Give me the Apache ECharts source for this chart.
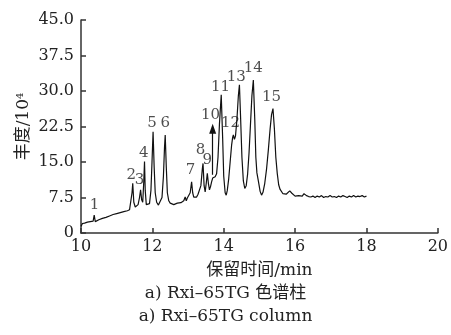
<!DOCTYPE html>
<html><head><meta charset="utf-8">
<script src="https://cdn.jsdelivr.net/npm/echarts@6/dist/echarts.min.js"></script>
<style>html,body{margin:0;padding:0;background:#fff}#c{width:451px;height:335px}</style>
</head><body><div id="c"></div>
<script>
const times = [10.00,10.04,10.07,10.10,10.14,10.18,10.22,10.26,10.30,10.34,10.37,10.40,10.44,10.50,10.55,10.60,10.65,10.70,10.75,10.80,10.85,10.90,10.95,11.00,11.05,11.10,11.15,11.20,11.25,11.30,11.36,11.40,11.43,11.45,11.48,11.52,11.56,11.60,11.64,11.67,11.70,11.73,11.76,11.78,11.80,11.83,11.87,11.92,11.96,11.99,12.02,12.05,12.08,12.12,12.17,12.22,12.27,12.31,12.34,12.36,12.39,12.42,12.46,12.50,12.55,12.60,12.65,12.70,12.75,12.80,12.85,12.88,12.92,12.95,12.98,13.00,13.03,13.06,13.10,13.13,13.16,13.20,13.24,13.28,13.32,13.36,13.40,13.42,13.45,13.48,13.51,13.54,13.57,13.60,13.63,13.66,13.69,13.72,13.76,13.80,13.84,13.88,13.93,13.97,14.00,14.04,14.07,14.10,14.14,14.18,14.22,14.25,14.27,14.30,14.33,14.37,14.41,14.44,14.47,14.51,14.55,14.59,14.63,14.67,14.71,14.75,14.79,14.83,14.87,14.90,14.93,14.97,15.02,15.06,15.10,15.15,15.20,15.25,15.30,15.34,15.38,15.42,15.46,15.50,15.54,15.58,15.62,15.66,15.70,15.75,15.80,15.85,15.88,15.91,15.95,16.00,16.05,16.10,16.15,16.20,16.25,16.28,16.32,16.38,16.44,16.50,16.56,16.62,16.68,16.74,16.80,16.86,16.92,16.98,17.04,17.10,17.16,17.22,17.28,17.34,17.40,17.46,17.52,17.58,17.64,17.70,17.76,17.82,17.88,17.94,18.00];
const abundance = [1.4,2.0,1.6,2.1,1.9,2.3,2.1,2.4,2.3,2.5,3.8,2.4,2.6,2.8,2.9,3.1,3.2,3.3,3.5,3.6,3.8,3.9,4.0,4.1,4.2,4.3,4.4,4.5,4.6,4.7,4.9,5.0,8.5,10.5,6.5,5.5,5.4,6.0,7.5,9.1,7.0,6.5,11.0,15.1,9.0,6.0,5.6,6.2,9.0,15.0,21.4,14.0,8.5,6.5,5.9,6.2,7.5,12.0,18.0,20.7,14.0,8.5,6.8,6.3,6.2,6.0,6.0,6.3,6.1,6.4,6.5,6.8,7.6,6.8,7.4,7.0,7.8,8.5,10.8,8.5,7.6,7.8,7.6,8.2,8.4,10.0,13.5,14.7,10.0,8.7,10.5,12.6,10.5,9.1,9.8,10.8,11.6,11.5,11.9,12.5,16.0,23.0,29.2,20.0,12.0,8.5,8.0,9.0,11.5,15.0,18.5,20.2,20.7,19.8,20.5,24.0,29.0,31.3,25.0,16.0,11.0,9.4,10.0,12.5,17.0,23.0,29.0,32.3,24.0,16.0,12.7,11.0,8.8,8.0,8.6,10.5,13.5,17.5,22.0,25.0,26.3,22.0,16.0,12.6,10.2,9.2,8.9,8.3,8.6,8.2,8.4,8.9,9.2,8.4,8.0,7.8,7.7,7.9,7.6,7.8,8.3,8.5,7.9,7.7,7.6,7.8,7.5,7.8,7.6,7.9,7.5,7.7,7.6,7.9,7.6,7.7,7.5,7.8,7.6,7.9,7.7,7.5,7.8,7.6,7.9,7.6,7.8,7.7,7.9,7.6,7.8];
const peakNames = ['1','2','3','4','5','6','7','8','9','10','11','12','13','14','15'];
const peakLabelX = [10.38,11.41,11.64,11.76,11.99,12.36,13.07,13.35,13.54,13.63,13.91,14.19,14.35,14.83,15.34];
const peakLabelY = [5.9,12.3,11.2,16.8,23.2,23.2,13.3,17.5,15.4,24.9,30.9,23.2,33.0,34.8,28.8];
const arrowX = 13.69, arrowFromY = 12.3, arrowToY = 22.0;
const yTickLabels = ['0','7.5','15.0','22.5','30.0','37.5','45.0'];
const xTickLabels = ['10','12','14','16','18','20'];
const yAxisName = '丰度/10';
const yAxisSup = '4';
const xAxisName = '保留时间/min';
const caption1 = 'a) Rxi\u201365TG 色谱柱';
const caption2 = 'a) Rxi\u201365TG column';

const FONT = '"DejaVu Serif", "Noto Sans CJK SC", serif';
const chart = echarts.init(document.getElementById('c'), null, {renderer: 'canvas'});
chart.setOption({
  animation: false,
  backgroundColor: '#fff',
  title: [
    {text: caption1, left: 'center', top: 285, padding: 0, textStyle: {fontFamily: FONT, fontSize: 17, fontWeight: 'normal', color: '#222'}},
    {text: caption2, left: 'center', top: 308, padding: 0, textStyle: {fontFamily: FONT, fontSize: 17, fontWeight: 'normal', color: '#222'}}
  ],
  grid: {left: 81, right: 11, top: 20, bottom: 102},
  xAxis: {
    type: 'value', min: 10, max: 20, interval: 2,
    name: xAxisName, nameLocation: 'middle', nameGap: 29, nameMoveOverlap: false,
    nameTextStyle: {fontFamily: FONT, fontSize: 17, color: '#222'},
    axisLine: {show: true, lineStyle: {color: '#333', width: 1.5}},
    axisTick: {show: true, inside: true, length: 5, lineStyle: {color: '#333', width: 1.5}},
    axisLabel: {margin: 6, fontFamily: FONT, fontSize: 16, color: '#222',
      formatter: v => xTickLabels[Math.round((v - 10) / 2)]},
    splitLine: {show: false}
  },
  yAxis: {
    type: 'value', min: 0, max: 45, interval: 7.5,
    name: yAxisName + '{sup|' + yAxisSup + '}', nameLocation: 'middle', nameGap: 49, nameRotate: 90, nameMoveOverlap: false,
    nameTextStyle: {fontFamily: FONT, fontSize: 17, color: '#222',
      rich: {sup: {fontFamily: FONT, fontSize: 10, color: '#222', verticalAlign: 'top', lineHeight: 10, padding: [0,0,8,0]}}},
    axisLine: {show: true, lineStyle: {color: '#333', width: 1.5}},
    axisTick: {show: true, inside: true, length: 5, lineStyle: {color: '#333', width: 1.5}},
    axisLabel: {margin: 7, fontFamily: FONT, fontSize: 16, color: '#222',
      formatter: v => yTickLabels[Math.round(v / 7.5)]},
    splitLine: {show: false}
  },
  series: [
    {
      type: 'line',
      data: times.map((t, i) => [t, abundance[i]]),
      showSymbol: false,
      lineStyle: {color: '#111', width: 1.2},
      markLine: {
        silent: true, symbol: ['none', 'triangle'], symbolSize: [7, 10],
        label: {show: false},
        lineStyle: {color: '#111', width: 1.2, type: 'solid'},
        data: [[{coord: [arrowX, arrowFromY]}, {coord: [arrowX, arrowToY]}]]
      }
    },
    {
      type: 'scatter',
      symbolSize: 0,
      data: peakNames.map((n, i) => ({name: n, value: [peakLabelX[i], peakLabelY[i]]})),
      label: {show: true, position: 'inside', formatter: p => p.name,
        fontFamily: FONT, fontSize: 15, color: '#222'}
    }
  ]
});
</script></body></html>
